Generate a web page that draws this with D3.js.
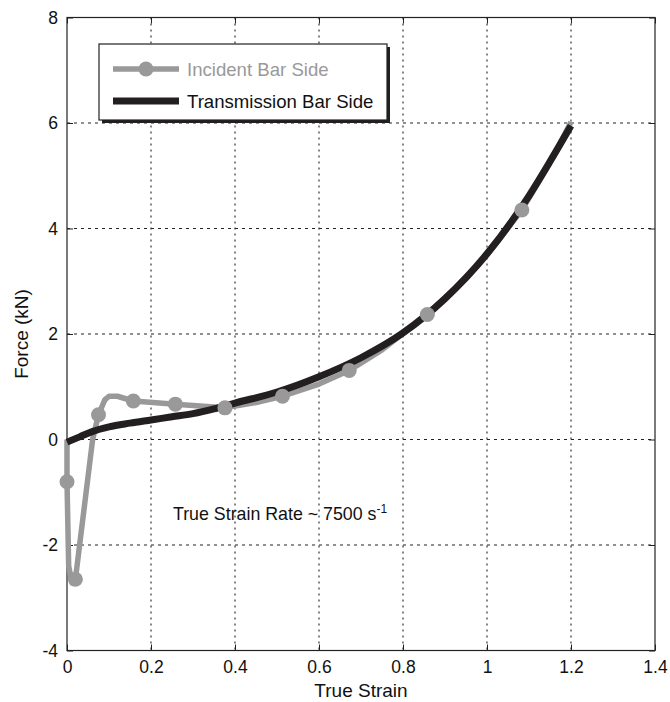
<!DOCTYPE html>
<html>
<head>
<meta charset="utf-8">
<script src="https://cdn.jsdelivr.net/npm/d3@7"></script>
<style>
  body { margin: 0; background: #fff; }
  text { font-family: "Liberation Sans", Arial, sans-serif; }
</style>
</head>
<body>
<svg id="chart" width="670" height="702"></svg>
<script>
// chart data
var xTicks = [0, 0.2, 0.4, 0.6, 0.8, 1, 1.2, 1.4];
var yTicks = [-4, -2, 0, 2, 4, 6, 8];

// transmission bar side (black)
var transX = [0, 0.03, 0.06, 0.1, 0.15, 0.2, 0.25, 0.3, 0.35, 0.4, 0.5, 0.6, 0.7, 0.8, 0.9, 1.0, 1.1, 1.15, 1.2];
var transY = [-0.05, 0.05, 0.15, 0.24, 0.31, 0.37, 0.43, 0.49, 0.58, 0.69, 0.9, 1.19, 1.55, 2.02, 2.67, 3.52, 4.62, 5.27, 5.95];

// incident bar side (grey)
var incX = [0, 0, 0.004, 0.012, 0.02, 0.061, 0.075, 0.09, 0.1, 0.12, 0.158, 0.258, 0.376, 0.45, 0.513, 0.6, 0.672, 0.75, 0.858, 0.95, 1.0, 1.083, 1.15, 1.2];
var incY = [0, -0.8, -2.4, -2.72, -2.65, 0, 0.47, 0.75, 0.82, 0.82, 0.73, 0.67, 0.6, 0.7, 0.82, 1.05, 1.31, 1.7, 2.37, 3.05, 3.5, 4.35, 5.25, 6.02];
var incMarks = [1, 4, 6, 10, 11, 12, 14, 16, 18, 21];

var legendLabels = ["Incident Bar Side", "Transmission Bar Side"];

///////////////////////////////////////////
// setup
///////////////////////////////////////////
var svg = d3.select("#chart");
var pLeft = 67, pRight = 655, pTop = 17.5, pBottom = 650.5;
var grey = "#999999", black = "#231f20";

var x = d3.scaleLinear().domain([0, 1.4]).range([pLeft, pRight]);
var y = d3.scaleLinear().domain([-4, 8]).range([pBottom, pTop]);

function plainNum(d) { return String(d); }   // keep the hyphen minus of the original

// grid
svg.append("g").selectAll("line")
    .data(xTicks.slice(1, -1))
    .enter().append("line")
    .attr("x1", d => x(d)).attr("x2", d => x(d))
    .attr("y1", pTop).attr("y2", pBottom)
    .attr("stroke", "#222").attr("stroke-width", 1.1)
    .attr("stroke-dasharray", "2,4");

svg.append("g").selectAll("line")
    .data(yTicks.slice(1, -1))
    .enter().append("line")
    .attr("x1", pLeft).attr("x2", pRight)
    .attr("y1", d => y(d)).attr("y2", d => y(d))
    .attr("stroke", "#222").attr("stroke-width", 1.1)
    .attr("stroke-dasharray", "3,4");

// axes (ticks inward, MATLAB style)
svg.append("g")
    .attr("transform", "translate(0," + pBottom + ")")
    .call(d3.axisBottom(x).tickValues(xTicks).tickFormat(plainNum).tickSizeInner(-6).tickSizeOuter(0).tickPadding(10));
svg.append("g")
    .attr("transform", "translate(0," + pTop + ")")
    .call(d3.axisTop(x).tickValues(xTicks).tickFormat("").tickSizeInner(-6).tickSizeOuter(0));
svg.append("g")
    .attr("transform", "translate(" + pLeft + ",0)")
    .call(d3.axisLeft(y).tickValues(yTicks).tickFormat(plainNum).tickSizeInner(-6).tickSizeOuter(0).tickPadding(9));
svg.append("g")
    .attr("transform", "translate(" + pRight + ",0)")
    .call(d3.axisRight(y).tickValues(yTicks).tickFormat("").tickSizeInner(-6).tickSizeOuter(0));

svg.selectAll(".domain").remove();
svg.selectAll(".tick line").attr("stroke", "#222");
svg.selectAll(".tick text")
    .attr("font-size", 17.5)
    .attr("fill", "#111")
    .style("font-family", "Liberation Sans, Arial, sans-serif");

// box
svg.append("rect")
    .attr("x", pLeft).attr("y", pTop)
    .attr("width", pRight - pLeft).attr("height", pBottom - pTop)
    .attr("fill", "none").attr("stroke", "#222").attr("stroke-width", 1.2);

// curves
var line = d3.line().x(d => x(d[0])).y(d => y(d[1]));

var incData = incX.map((v, i) => [v, incY[i]]);
var transData = transX.map((v, i) => [v, transY[i]]);

var plot = svg.append("g");

plot.append("path")
    .datum(incData)
    .attr("d", line)
    .attr("fill", "none")
    .attr("stroke", grey)
    .attr("stroke-width", 5.5)
    .attr("stroke-linejoin", "round");

plot.append("path")
    .datum(transData)
    .attr("d", line.curve(d3.curveMonotoneX))
    .attr("fill", "none")
    .attr("stroke", black)
    .attr("stroke-width", 7)
    .attr("stroke-linejoin", "round");

plot.selectAll("circle.mark")
    .data(incMarks.map(i => incData[i]))
    .enter().append("circle")
    .attr("class", "mark")
    .attr("cx", d => x(d[0]))
    .attr("cy", d => y(d[1]))
    .attr("r", 7.5)
    .attr("fill", grey);

// axis titles
svg.append("text")
    .attr("x", (pLeft + pRight) / 2).attr("y", 697)
    .attr("text-anchor", "middle")
    .attr("font-size", 19).attr("fill", "#111")
    .text("True Strain");

svg.append("text")
    .attr("transform", "translate(28," + ((pTop + pBottom) / 2) + ") rotate(-90)")
    .attr("text-anchor", "middle")
    .attr("font-size", 19).attr("fill", "#111")
    .text("Force (kN)");

// annotation
var note = svg.append("text")
    .attr("x", 173).attr("y", 520)
    .attr("font-size", 17.8).attr("fill", "#111");
note.append("tspan").text("True Strain Rate ~ 7500 s");
note.append("tspan").attr("dy", -7).attr("font-size", 12).text("-1");

// legend
var lg = svg.append("g");
lg.append("rect")
    .attr("x", 102).attr("y", 47).attr("width", 288).attr("height", 76)
    .attr("fill", black);
lg.append("rect")
    .attr("x", 99).attr("y", 44).attr("width", 288).attr("height", 76)
    .attr("fill", "#fff").attr("stroke", "#222").attr("stroke-width", 1.2);

var rows = [
    { label: legendLabels[0], color: grey, width: 5.5, mark: true, y: 69 },
    { label: legendLabels[1], color: black, width: 7, mark: false, y: 101 }
];
rows.forEach(function(r) {
    lg.append("line")
        .attr("x1", 113).attr("x2", 179)
        .attr("y1", r.y).attr("y2", r.y)
        .attr("stroke", r.color).attr("stroke-width", r.width);
    if (r.mark) {
        lg.append("circle").attr("cx", 146).attr("cy", r.y).attr("r", 7.5).attr("fill", r.color);
    }
    lg.append("text")
        .attr("x", 187).attr("y", r.y + 6.5)
        .attr("font-size", 18.6)
        .attr("fill", r.mark ? grey : "#111")
        .text(r.label);
});
</script>
</body>
</html>
